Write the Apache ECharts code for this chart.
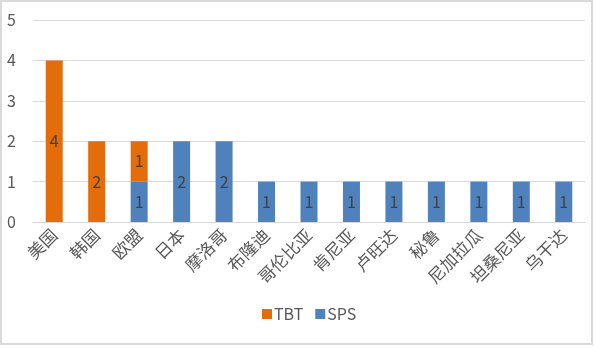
<!DOCTYPE html>
<html><head><meta charset="utf-8">
<script src="https://cdn.jsdelivr.net/npm/echarts@6/dist/echarts.min.js"></script>
<style>html,body{margin:0;padding:0;background:#fff}#c{width:596px;height:348px}</style>
</head><body><div id="c"></div>
<script>
const categories = ['美国','韩国','欧盟','日本','摩洛哥','布隆迪','哥伦比亚','肯尼亚','卢旺达','秘鲁','尼加拉瓜','坦桑尼亚','乌干达'];
const tbt = [4,2,1,0,0,0,0,0,0,0,0,0,0];
const sps = [0,0,1,2,2,1,1,1,1,1,1,1,1];
const yTicks = [0,1,2,3,4,5];
const FONT = '"Noto Sans CJK SC", "Noto Sans", sans-serif';
const chart = echarts.init(document.getElementById('c'));
const lbl = {show:true, position:'inside', color:'#404040', fontSize:16, fontFamily:FONT,
  formatter: p => p.value ? p.value : ''};
chart.setOption({
  animation:false,
  graphic:[{type:'rect', shape:{x:1,y:1,width:591,height:343}, style:{fill:'none', stroke:'#d9d9d9', lineWidth:2}}],
  grid:{left:33, right:11, top:20, bottom:126, containLabel:false},
  legend:{left:262, top:306, padding:0, itemWidth:10, itemHeight:10, itemGap:12, icon:'rect',
    textStyle:{color:'#595959', fontSize:16, fontFamily:FONT, padding:[0,0,0,-3]},
    data:['TBT','SPS']},
  xAxis:{type:'category', data:categories,
    axisLine:{lineStyle:{color:'#d9d9d9'}}, axisTick:{show:false},
    axisLabel:{rotate:45, color:'#595959', fontSize:17, fontFamily:FONT, interval:0, margin:10}},
  yAxis:{type:'value', min:yTicks[0], max:yTicks[yTicks.length-1], interval:1,
    axisLine:{show:false}, axisTick:{show:false},
    splitLine:{lineStyle:{color:'#d9d9d9'}},
    axisLabel:{color:'#595959', fontSize:16, fontFamily:FONT, margin:17}},
  series:[
    {name:'SPS', type:'bar', stack:'a', data:sps, barWidth:17, itemStyle:{color:'#4F81BD'}, label:lbl},
    {name:'TBT', type:'bar', stack:'a', data:tbt, barWidth:17, itemStyle:{color:'#E46C0A'}, label:lbl}
  ]
});
</script></body></html>
